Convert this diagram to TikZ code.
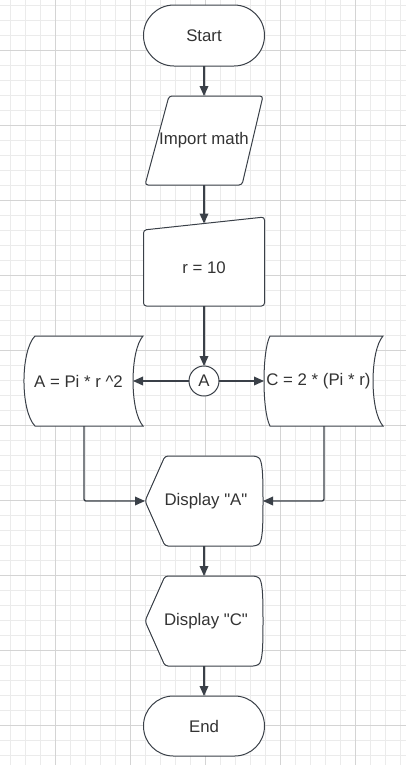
\documentclass[tikz,border=0pt]{standalone}
\usepackage{fontspec}
\setmainfont{Liberation Sans}
\usetikzlibrary{arrows.meta,calc}
\definecolor{gridminor}{HTML}{EBEBEB}
\definecolor{gridmajor}{HTML}{D4D4D4}
\definecolor{linec}{HTML}{3A4048}
\definecolor{textc}{HTML}{333333}
\begin{document}
\begin{tikzpicture}[x=0.75pt,y=-0.75pt,
  lbl/.style={inner sep=0pt, outer sep=0pt, text=textc, font=\fontsize{12.6}{14}\selectfont},
  outline/.style={draw=linec, fill=white, line width=0.75pt, rounded corners=2.25pt},
  conn/.style={draw=linec, line width=1pt, rounded corners=1.5pt, -{Triangle[length=7.5pt,width=6.5pt]}}]
\useasboundingbox (0,0) rectangle (406,765);
\fill[white] (0,0) rectangle (406,765);
% grid
\foreach \x in {10,25,...,400} \draw[gridminor, line width=0.6pt] (\x,0) -- (\x,765);
\foreach \y in {5,20,...,765} \draw[gridminor, line width=0.6pt] (0,\y) -- (406,\y);
\foreach \x in {55,130,...,400} \draw[gridmajor, line width=0.6pt] (\x,0) -- (\x,765);
\foreach \y in {50,125,...,765} \draw[gridmajor, line width=0.6pt] (0,\y) -- (406,\y);

% Start terminal
\node[lbl, draw=linec, fill=white, line width=0.75pt, rounded corners=22.8pt,
      minimum width=90.75pt, minimum height=45.75pt] (start) at (204,35.5) {Start};

% Import math (parallelogram)
\node[lbl, minimum width=88.5pt, minimum height=66.75pt] (imp) at (204,140.5) {};
\draw[outline] ($(imp.north west)+(24,0)$) -- (imp.north east) -- ($(imp.south east)+(-21,0)$) -- (imp.south west) -- cycle;
\node[lbl] at (imp.center) {Import math};

% r = 10 (manual input)
\node[lbl, minimum width=90.75pt, minimum height=57pt] (man) at (204,268) {};
\draw[outline] (man.north west) -- ($(man.north east)+(0,-13)$) -- (man.south east) -- (man.south west) -- cycle;
\node[lbl] at (man.center) {r = 10};
\coordinate (mantop) at ($(man.north)+(0,-6.5)$);

% connector circle
\node[lbl, circle, draw=linec, fill=white, line width=0.75pt, minimum size=22.5pt] (circ) at (204,381) {A};

% left stored data
\node[lbl, minimum width=81.75pt, minimum height=67.5pt] (lstore) at (78.5,381) {};
\draw[draw=linec, fill=white, line width=0.75pt] (35,336) -- (143,336)
   .. controls (129.7,351) and (129.7,411) .. (143,426) -- (35,426)
   .. controls (20.3,411) and (20.3,351) .. (35,336) -- cycle;
\node[lbl] at (lstore.center) {A = Pi * r \textasciicircum2};

% right stored data
\node[lbl, minimum width=81.75pt, minimum height=67.5pt] (rstore) at (318.5,381) {};
\draw[draw=linec, fill=white, line width=0.75pt] (270,336) -- (383,336)
   .. controls (369.7,351) and (369.7,411) .. (383,426) -- (270,426)
   .. controls (262,411) and (262,351) .. (270,336) -- cycle;
\node[lbl] at (rstore.center) {C = 2 * (Pi * r)};

% Display A
\node[lbl, minimum width=88.5pt, minimum height=67.5pt] (dispA) at (204,501) {};
\draw[outline] (145,501) -- (165,456) -- (256,456)
   .. controls (262.5,460) and (263,475) .. (263,501)
   .. controls (263,527) and (262.5,542) .. (256,546) -- (165,546) -- cycle;
\node[lbl] at ($(dispA.center)+(2,0)$) {Display \textquotedbl A\textquotedbl};

% Display C
\node[lbl, minimum width=88.5pt, minimum height=67.5pt] (dispC) at (204,621) {};
\draw[outline] (145,621) -- (165,576) -- (256,576)
   .. controls (262.5,580) and (263,595) .. (263,621)
   .. controls (263,647) and (262.5,662) .. (256,666) -- (165,666) -- cycle;
\node[lbl] at ($(dispC.center)+(2,0)$) {Display \textquotedbl C\textquotedbl};

% End terminal
\node[lbl, draw=linec, fill=white, line width=0.75pt, rounded corners=22.4pt,
      minimum width=90.75pt, minimum height=45pt] (end) at (204,726) {End};

% connectors
\draw[conn] (start.south) -- (imp.north);
\draw[conn] (imp.south) -- (mantop);
\draw[conn] (man.south) -- (circ.north);
\draw[conn] (circ.west) -- (lstore.east);
\draw[conn] (circ.east) -- (rstore.west);
\draw[conn] ($(lstore.south)+(5.5,0)$) |- (dispA.west);
\draw[conn] ($(rstore.south)+(5.5,0)$) |- (dispA.east);
\draw[conn] (dispA.south) -- (dispC.north);
\draw[conn] (dispC.south) -- (end.north);
\end{tikzpicture}
\end{document}
